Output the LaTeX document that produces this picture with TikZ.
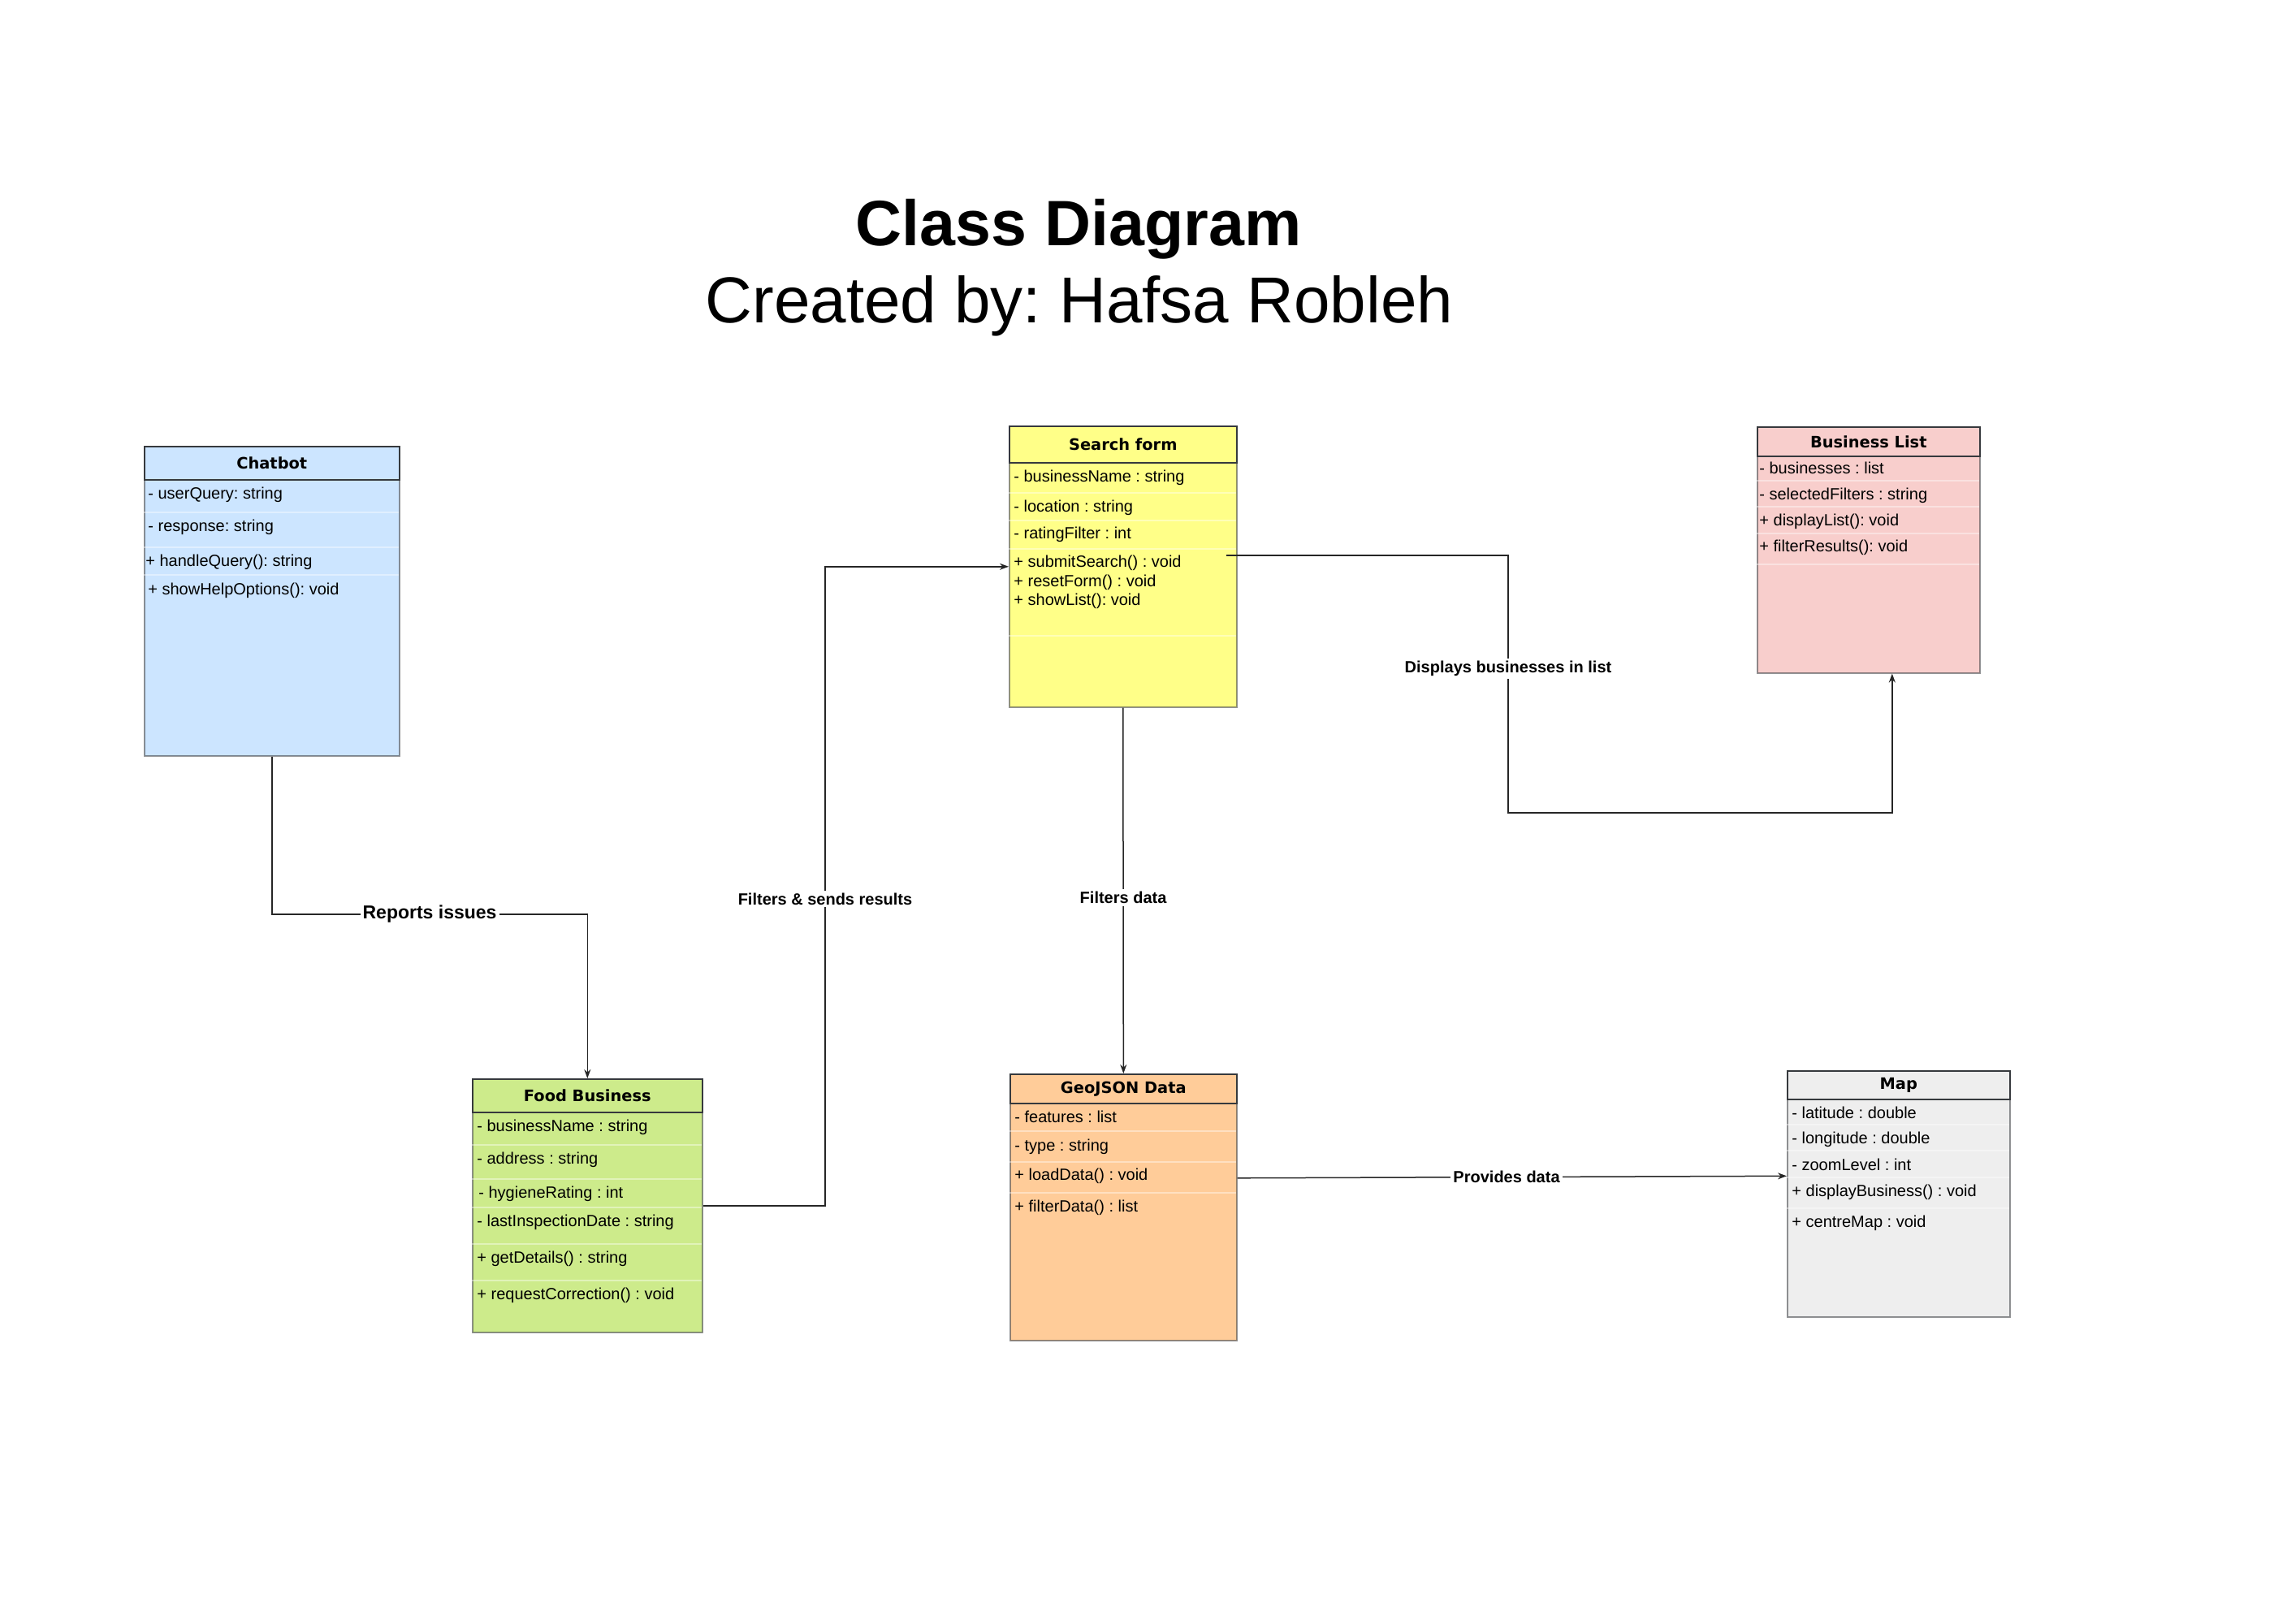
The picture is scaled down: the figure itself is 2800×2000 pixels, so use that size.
\documentclass[tikz,border=0pt]{standalone}
\usepackage{fontspec}
\setmainfont{Liberation Sans}
\newfontfamily\headfont{DejaVu Sans}
\frenchspacing
\usetikzlibrary{positioning,arrows.meta}
\definecolor{chatblue}{HTML}{CCE5FF}
\definecolor{formyellow}{HTML}{FFFF88}
\definecolor{listpink}{HTML}{F8CECC}
\definecolor{foodgreen}{HTML}{CDEB8B}
\definecolor{geoorange}{HTML}{FFCC99}
\definecolor{mapgray}{HTML}{EEEEEE}
\definecolor{edgegray}{HTML}{36393D}
\tikzset{x=0.5pt, y=-0.5pt, >={Stealth[length=5.5pt,width=4pt]},
  classbox/.style={rectangle, draw=edgegray, draw opacity=0.55, line width=0.8pt, anchor=north west, inner sep=0pt},
  classhead/.style={rectangle, draw=edgegray, line width=0.8pt, anchor=north west, inner sep=0pt, font=\headfont\bfseries\fontsize{9.7}{12}\selectfont},
  attr/.style={anchor=mid west, inner sep=0pt, font=\fontsize{10}{12}\selectfont},
  rowline/.style={draw=white, opacity=0.4, line width=0.6pt},
  link/.style={->, line width=0.75pt, draw=black!85},
  linklabel/.style={fill=white, inner sep=1.5pt, font=\bfseries\fontsize{10}{12}\selectfont}}

\begin{document}
\begin{tikzpicture}
      \useasboundingbox (0,0) rectangle (2800,2000);

      \node[anchor=base, font=\bfseries\fontsize{39.5}{46}\selectfont] (title) at (1328,303) {Class Diagram};
      \node[anchor=base, font=\fontsize{40}{46}\selectfont] (subtitle) at (1329,398) {Created by: Hafsa Robleh};

      \node[classbox, fill=chatblue, minimum width=157pt, minimum height=190.5pt] (chatbot) at (177,549) {};
      \draw[rowline] (177,631) -- (491,631) (177,674) -- (491,674) (177,708) -- (491,708);
      \node[classhead, fill=chatblue, minimum width=157pt, minimum height=20.5pt] (chatbotHead) at (177,549) {Chatbot};
      \node[attr] (cb1) at (182,609) {- userQuery: string};
      \node[attr] (cb2) at (182,649) {- response: string};
      \node[attr] (cb3) at (179,692) {+ handleQuery(): string};
      \node[attr] (cb4) at (182,727) {+ showHelpOptions(): void};

      \node[classbox, fill=formyellow, minimum width=140pt, minimum height=173pt] (search) at (1242,524) {};
      \draw[rowline] (1242,607) -- (1522,607) (1242,641) -- (1522,641) (1242,676) -- (1522,676) (1242,783) -- (1522,783);
      \node[classhead, fill=formyellow, minimum width=140pt, minimum height=22.5pt] (searchHead) at (1242,524) {Search form};
      \node[attr] (sf1) at (1248,588) {- businessName : string};
      \node[attr] (sf2) at (1248,625) {- location : string};
      \node[attr] (sf3) at (1248,658) {- ratingFilter : int};
      \node[attr] (sf4) at (1248,693) {+ submitSearch() : void};
      \node[attr] (sf5) at (1248,717) {+ resetForm() : void};
      \node[attr] (sf6) at (1248,740) {+ showList(): void};

      \node[classbox, fill=listpink, minimum width=137pt, minimum height=151.5pt] (blist) at (2163,525) {};
      \draw[rowline] (2163,592) -- (2437,592) (2163,624) -- (2437,624) (2163,657) -- (2437,657) (2163,695) -- (2437,695);
      \node[classhead, fill=listpink, minimum width=137pt, minimum height=18pt] (blistHead) at (2163,525) {Business List};
      \node[attr] (bl1) at (2166,578) {- businesses : list};
      \node[attr] (bl2) at (2166,610) {- selectedFilters : string};
      \node[attr] (bl3) at (2166,642) {+ displayList(): void};
      \node[attr] (bl4) at (2166,674) {+ filterResults(): void};

      \node[classbox, fill=foodgreen, minimum width=141.5pt, minimum height=156pt] (food) at (581,1328) {};
      \draw[rowline] (581,1410) -- (864,1410) (581,1452) -- (864,1452) (581,1487) -- (864,1487) (581,1532) -- (864,1532) (581,1577) -- (864,1577);
      \node[classhead, fill=foodgreen, minimum width=141.5pt, minimum height=20.5pt] (foodHead) at (581,1328) {Food Business};
      \node[attr] (fb1) at (587,1388) {- businessName : string};
      \node[attr] (fb2) at (587,1428) {- address : string};
      \node[attr] (fb3) at (589,1470) {- hygieneRating : int};
      \node[attr] (fb4) at (587,1505) {- lastInspectionDate : string};
      \node[attr] (fb5) at (587,1550) {+ getDetails() : string};
      \node[attr] (fb6) at (587,1595) {+ requestCorrection() : void};

      \node[classbox, fill=geoorange, minimum width=139.5pt, minimum height=164pt] (geo) at (1243,1322) {};
      \draw[rowline] (1243,1393) -- (1522,1393) (1243,1431) -- (1522,1431) (1243,1469) -- (1522,1469);
      \node[classhead, fill=geoorange, minimum width=139.5pt, minimum height=18pt] (geoHead) at (1243,1322) {GeoJSON Data};
      \node[attr] (gd1) at (1249,1377) {- features : list};
      \node[attr] (gd2) at (1249,1412) {- type : string};
      \node[attr] (gd3) at (1249,1448) {+ loadData() : void};
      \node[attr] (gd4) at (1249,1487) {+ filterData() : list};

      \node[classbox, fill=mapgray, minimum width=137pt, minimum height=151.5pt] (map) at (2200,1318) {};
      \draw[rowline] (2200,1385) -- (2474,1385) (2200,1417) -- (2474,1417) (2200,1450) -- (2474,1450) (2200,1488) -- (2474,1488);
      \node[classhead, fill=mapgray, minimum width=137pt, minimum height=17.5pt] (mapHead) at (2200,1318) {Map};
      \node[attr] (mp1) at (2206,1372) {- latitude : double};
      \node[attr] (mp2) at (2206,1403) {- longitude : double};
      \node[attr] (mp3) at (2206,1436) {- zoomLevel : int};
      \node[attr] (mp4) at (2206,1468) {+ displayBusiness() : void};
      \node[attr] (mp5) at (2206,1506) {+ centreMap : void};

      \coordinate (rep) at (334,1126);
      \coordinate (fsr) at (1016,1108);
      \coordinate (dbl) at (1857,1001);

      \draw[link] (chatbot.south) -- (chatbot.south |- rep) -- node[linklabel, font=\bfseries\fontsize{11.5}{13}\selectfont] {Reports issues} (food.north |- rep) -- (food.north);
      \draw[link] (food.east) -- (food.east -| fsr) -- node[linklabel, pos=0.48] {Filters \& sends results} (search.west -| fsr) -- (search.west);
      \draw[link] (search.south) -- node[linklabel, pos=0.52] {Filters data} (geo.north);
      \draw[link] ([shift={(-7pt,7pt)}]search.east) -| node[linklabel, pos=0.72] {Displays businesses in list} (dbl) -| ([xshift=14.5pt]blist.south);
      \draw[link] ([yshift=18pt]geo.east) -- node[linklabel, pos=0.49] {Provides data} ([yshift=11pt]map.west);
\end{tikzpicture}
\end{document}
